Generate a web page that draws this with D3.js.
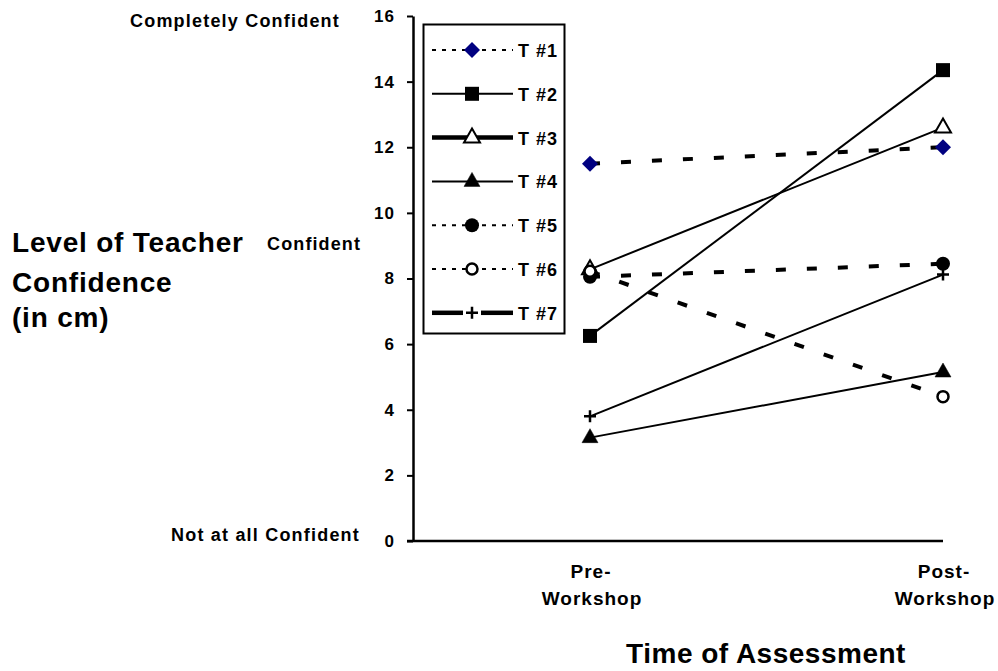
<!DOCTYPE html>
<html>
<head>
<meta charset="utf-8">
<script src="https://cdn.jsdelivr.net/npm/d3@7"></script>
<style>
  body { margin: 0; background: #fff; }
  svg { display: block; font-family: Arial, "Liberation Sans", sans-serif; font-weight: bold; }
</style>
</head>
<body>
<svg width="998" height="671"></svg>
<script>
(function() {

// ---- data ----
var categories = ["Pre-Workshop", "Post-Workshop"];
var categoryLines = [["Pre-", "Workshop"], ["Post-", "Workshop"]];
var seriesNames = ["T #1", "T #2", "T #3", "T #4", "T #5", "T #6", "T #7"];
var t1 = [11.5, 12.0];
var t2 = [6.25, 14.35];
var t3 = [8.28, 12.6];
var t4 = [3.15, 5.15];
var t5 = [8.05, 8.45];
var t6 = [8.22, 4.4];
var t7 = [3.8, 8.12];
var yTicks = [0, 2, 4, 6, 8, 10, 12, 14, 16];
var levelLabels = ["Completely Confident", "Confident", "Not at all Confident"];

var seriesValues = [t1, t2, t3, t4, t5, t6, t7];
var markers = ["diamond", "square", "triangleOpen", "triangle", "circle", "circleOpen", "plus"];
// how the line looks in the plot, and how it looks in the legend (they differ in the original)
var plotStyle = ["dash", "thin", "thin", "thin", "dash", "dash", "thin"];
var legendStyle = ["dot", "thin", "thick", "thin", "dot", "dot", "thickGap"];

var svg = d3.select("svg");

var y = d3.scaleLinear().domain([0, 16]).range([541, 16]);
var x = d3.scalePoint().domain(categories).range([590, 943]);
var x0 = 413;

// y axis
var yAxis = svg.append("g")
    .attr("transform", "translate(" + x0 + ",0)")
    .call(d3.axisLeft(y).tickValues(yTicks).tickSize(6).tickSizeOuter(0).tickPadding(12));
yAxis.select(".domain").attr("stroke", "#000").attr("stroke-width", 2.5);
yAxis.selectAll(".tick line").attr("stroke", "#000").attr("stroke-width", 2);
yAxis.selectAll(".tick text")
    .attr("fill", "#000")
    .style("font-family", "Arial, 'Liberation Sans', sans-serif")
    .style("font-weight", "bold")
    .style("font-size", "17px")
    .style("letter-spacing", "1px");

// x axis line
svg.append("line")
    .attr("x1", x0 - 6).attr("x2", x(categories[1]))
    .attr("y1", y(0)).attr("y2", y(0))
    .attr("stroke", "#000").attr("stroke-width", 2.5);

// category labels
categories.forEach(function(c, i) {
    var t = svg.append("text")
        .attr("text-anchor", "middle")
        .style("font-size", "19px")
        .style("letter-spacing", "1px");
    t.append("tspan").attr("x", x(c) + 1).attr("y", 578).text(categoryLines[i][0]);
    t.append("tspan").attr("x", x(c) + 2).attr("y", 605).text(categoryLines[i][1]);
});

// axis titles
svg.append("text")
    .attr("x", 766).attr("y", 663)
    .attr("text-anchor", "middle")
    .style("font-size", "28px")
    .style("letter-spacing", "0.5px")
    .text("Time of Assessment");

var ytitle = svg.append("text").style("font-size", "28px").style("letter-spacing", "0.8px");
["Level of Teacher", "Confidence", "(in cm)"].forEach(function(s, i) {
    ytitle.append("tspan").attr("x", 12).attr("y", [252, 292, 327][i]).text(s);
});

// level annotations
svg.append("text").attr("x", 340).attr("y", 27).attr("text-anchor", "end")
    .style("font-size", "18px").style("letter-spacing", "1.2px").text(levelLabels[0]);
svg.append("text").attr("x", 361).attr("y", 250).attr("text-anchor", "end")
    .style("font-size", "18px").style("letter-spacing", "1.1px").text(levelLabels[1]);
svg.append("text").attr("x", 360).attr("y", 541).attr("text-anchor", "end")
    .style("font-size", "18px").style("letter-spacing", "1.2px").text(levelLabels[2]);

// ---- markers ----
function drawMarker(g, type, cx, cy) {
    var m = g.append("g").attr("transform", "translate(" + cx + "," + cy + ")");
    if (type == "diamond") {
        m.append("path").attr("d", "M0,-8L8,0L0,8L-8,0Z").attr("fill", "#000080");
    } else if (type == "square") {
        m.append("rect").attr("x", -7).attr("y", -7).attr("width", 14).attr("height", 14).attr("fill", "#000");
    } else if (type == "triangle" || type == "triangleOpen") {
        m.append("path").attr("d", "M0,-9L8,5L-8,5Z")
            .attr("fill", type == "triangle" ? "#000" : "#fff")
            .attr("stroke", "#000").attr("stroke-width", type == "triangle" ? 0.5 : 2);
    } else if (type == "circle") {
        m.append("circle").attr("r", 7).attr("fill", "#000");
    } else if (type == "circleOpen") {
        m.append("circle").attr("r", 5.5).attr("fill", "#fff").attr("stroke", "#000").attr("stroke-width", 2.5);
    } else if (type == "plus") {
        m.append("path").attr("d", "M-6,0H6M0,-6V6").attr("stroke", "#000").attr("stroke-width", 2.5);
    }
}

function styleLine(sel, style) {
    if (style == "dash") {
        sel.attr("stroke-width", 4).attr("stroke-dasharray", "10,21");
    } else if (style == "dot") {
        sel.attr("stroke-width", 2).attr("stroke-dasharray", "4,6");
    } else if (style == "thick" || style == "thickGap") {
        sel.attr("stroke-width", 4.5);
    } else {
        sel.attr("stroke-width", 2);
    }
    return sel.attr("stroke", "#000").attr("fill", "none");
}

// ---- series ----
var line = d3.line()
    .x(function(d, i) { return x(categories[i]); })
    .y(function(d) { return y(d); });

var plot = svg.append("g");
seriesValues.forEach(function(vals, s) {
    var g = plot.append("g");
    styleLine(g.append("path").attr("d", line(vals)), plotStyle[s]);
    vals.forEach(function(v, i) {
        drawMarker(g, markers[s], x(categories[i]), y(v));
    });
});

// ---- legend ----
var legend = svg.append("g");
legend.append("rect")
    .attr("x", 423.5).attr("y", 24.5).attr("width", 141).attr("height", 309)
    .attr("fill", "#fff").attr("stroke", "#000").attr("stroke-width", 2);

seriesNames.forEach(function(name, s) {
    var ly = 50 + s * 43.8;
    var g = legend.append("g");
    if (legendStyle[s] == "thickGap") {
        styleLine(g.append("line").attr("x1", 432).attr("x2", 463).attr("y1", ly).attr("y2", ly), "thick");
        styleLine(g.append("line").attr("x1", 481).attr("x2", 513).attr("y1", ly).attr("y2", ly), "thick");
    } else {
        styleLine(g.append("line").attr("x1", 432).attr("x2", 513).attr("y1", ly).attr("y2", ly), legendStyle[s]);
    }
    drawMarker(g, markers[s], 472, ly);
    g.append("text").attr("x", 518).attr("y", ly + 7)
        .style("font-size", "18px").style("letter-spacing", "1px").text(name);
});

})();
</script>
</body>
</html>
